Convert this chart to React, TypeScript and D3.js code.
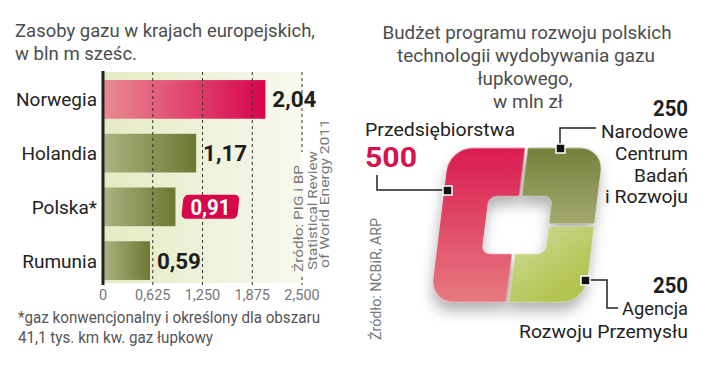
import React from 'react';
import * as d3 from 'd3';

const width = 720;
const height = 365;
const font = 'Roboto, "Open Sans", sans-serif';

// left chart: gas reserves
const countries = ['Norwegia', 'Holandia', 'Polska*', 'Rumunia'];
const reserves = [2.04, 1.17, 0.91, 0.59];
const reserveLabels = ['2,04', '1,17', '0,91', '0,59'];
const tickValues = [0, 0.625, 1.25, 1.875, 2.5];
const tickLabels = ['0', '0,625', '1,250', '1,875', '2,500'];

// right chart: budget
const budgetNames = [['Przedsiębiorstwa'], ['Narodowe', 'Centrum', 'Badań', 'i Rozwoju'], ['Agencja', 'Rozwoju Przemysłu']];
const budgetValues = [500, 250, 250];
const budgetLabels = ['500', '250', '250'];

const x = d3.scaleLinear().domain([0, 2.5]).range([103, 302]);
const y = d3.scaleBand().domain(countries).range([72, 288]).paddingInner(0.28).paddingOuter(0.15);

const pie = d3.pie<number>().sort(null).startAngle(Math.PI).endAngle(3 * Math.PI);
const arcs = pie(budgetValues);
const arcGen = d3.arc<d3.PieArcDatum<number>>().innerRadius(6).outerRadius(200).padAngle(0.025).padRadius(120);

function roundRect(p: d3.Path, x0: number, y0: number, w: number, h: number, r: number) {
  p.moveTo(x0 + r, y0);
  p.arcTo(x0 + w, y0, x0 + w, y0 + h, r);
  p.arcTo(x0 + w, y0 + h, x0, y0 + h, r);
  p.arcTo(x0, y0 + h, x0, y0, r);
  p.arcTo(x0, y0, x0 + w, y0, r);
  p.closePath();
}
const ring = d3.path();
roundRect(ring, -77, -77, 154, 154, 23);
roundRect(ring, -32, -29, 64, 58, 8);

const sliceGrad = [
  ['#da1c4f', '#e67a80', 0, -77, 0, 77],
  ['#74813a', '#a4a970', 0, -77, 0, 0],
  ['#d6dea6', '#b3c34f', -20, 0, 40, 77],
];

function App() {
  const barGrad = (i: number) => (i === 0 ? 'url(#gRed)' : 'url(#gGreen)');
  return (
    <svg width={width} height={height} style={{ position: 'absolute', left: 0, top: 0, background: '#fff' }} fontFamily={font}>
      <defs>
        <linearGradient id="gRed" x1="0" x2="1" y1="0" y2="0">
          <stop offset="0" stopColor="#e98c91" />
          <stop offset="1" stopColor="#d8044d" />
        </linearGradient>
        <linearGradient id="gGreen" x1="0" x2="1" y1="0" y2="0">
          <stop offset="0" stopColor="#adb283" />
          <stop offset="1" stopColor="#6b7931" />
        </linearGradient>
        <linearGradient id="gBg" x1="0" x2="1" y1="0" y2="0">
          <stop offset="0" stopColor="#e5eac3" />
          <stop offset="1" stopColor="#f8f9ef" />
        </linearGradient>
        {sliceGrad.map((g, i) => (
          <linearGradient key={i} id={`gs${i}`} gradientUnits="userSpaceOnUse" x1={g[2]} y1={g[3]} x2={g[4]} y2={g[5]}>
            <stop offset="0" stopColor={g[0] as string} />
            <stop offset="1" stopColor={g[1] as string} />
          </linearGradient>
        ))}
        {arcs.map((a, i) => (
          <clipPath key={i} id={`cp${i}`}>
            <path d={arcGen(a) || ''} />
          </clipPath>
        ))}
        <filter id="shadow" x="-30%" y="-30%" width="160%" height="170%">
          <feDropShadow dx="0" dy="9" stdDeviation="7" floodColor="#000" floodOpacity="0.3" />
        </filter>
      </defs>

      {/* left chart */}
      <text x={15} y={37} fontSize={19} fill="#4d4d4d" textLength={300} lengthAdjust="spacingAndGlyphs">Zasoby gazu w krajach europejskich,</text>
      <text x={15} y={60} fontSize={19} fill="#4d4d4d" textLength={122} lengthAdjust="spacingAndGlyphs">w bln m sześc.</text>

      <rect x={x(0)} y={72} width={x(2.5) - x(0)} height={211} fill="url(#gBg)" />
      {countries.map((c, i) => (
        <rect key={c} x={x(0)} y={y(c)} width={x(reserves[i]) - x(0)} height={y.bandwidth()} fill={barGrad(i)} />
      ))}
      {tickValues.slice(1, 4).map((t) => (
        <line key={t} x1={x(t)} x2={x(t)} y1={72} y2={285} stroke="#333" strokeDasharray="3,3" />
      ))}
      <line x1={x(2.5)} x2={x(2.5)} y1={72} y2={152} stroke="#333" strokeDasharray="3,3" />
      <line x1={x(2.5)} x2={x(2.5)} y1={277} y2={285} stroke="#333" strokeDasharray="3,3" />
      <line x1={x(0)} x2={x(0)} y1={71} y2={285} stroke="#222" strokeWidth={3} />

      {countries.map((c) => (
        <text key={c} x={97} y={(y(c) as number) + y.bandwidth() / 2 + 7} textAnchor="end" fontSize={19} fill="#222">{c}</text>
      ))}
      {countries.map((c, i) => {
        const cy = (y(c) as number) + y.bandwidth() / 2;
        const lx = x(reserves[i]) + 7;
        if (c === 'Polska*') {
          return (
            <g key={c}>
              <rect x={lx} y={cy - 12} width={56} height={24} rx={5} fill="#d6084b" transform={`skewX(-6) translate(${cy * Math.tan(6 * Math.PI / 180)},0)`} />
              <text x={lx + 8} y={cy + 8} fontSize={22} fontWeight="bold" fill="#fff" textLength={40} lengthAdjust="spacingAndGlyphs">{reserveLabels[i]}</text>
            </g>
          );
        }
        return (
          <text key={c} x={lx} y={cy + 8} fontSize={22} fontWeight="bold" fill="#1e1e1e" textLength={44} lengthAdjust="spacingAndGlyphs">{reserveLabels[i]}</text>
        );
      })}
      {tickValues.map((t, i) => (
        <text key={t} x={x(t)} y={300} textAnchor="middle" fontSize={14.5} fill="#777">{tickLabels[i]}</text>
      ))}

      <g fontSize={13.5} fill="#777">
        <text transform="translate(303,272) rotate(-90)" textLength={107} lengthAdjust="spacingAndGlyphs">Źródło: PIG i BP</text>
        <text transform="translate(316.5,270) rotate(-90)" textLength={119} lengthAdjust="spacingAndGlyphs">Statistical Review</text>
        <text transform="translate(329,268) rotate(-90)" textLength={149} lengthAdjust="spacingAndGlyphs">of World Energy 2011</text>
      </g>

      <text x={18} y={323} fontSize={16} fill="#555" textLength={302} lengthAdjust="spacingAndGlyphs">*gaz konwencjonalny i określony dla obszaru</text>
      <text x={18} y={343} fontSize={16} fill="#555" textLength={195} lengthAdjust="spacingAndGlyphs">41,1 tys. km kw. gaz łupkowy</text>

      {/* right chart */}
      <g fontSize={19} fill="#4d4d4d" textAnchor="middle">
        <text x={527} y={39} textLength={289} lengthAdjust="spacingAndGlyphs">Budżet programu rozwoju polskich</text>
        <text x={526} y={62} textLength={258} lengthAdjust="spacingAndGlyphs">technologii wydobywania gazu</text>
        <text x={525} y={85} textLength={95} lengthAdjust="spacingAndGlyphs">łupkowego,</text>
        <text x={528} y={108} textLength={70} lengthAdjust="spacingAndGlyphs">w mln zł</text>
      </g>

      <g transform="translate(517,225) skewX(-7)" filter="url(#shadow)">
        {arcs.map((a, i) => (
          <path key={i} d={ring.toString()} fillRule="evenodd" fill={`url(#gs${i})`} clipPath={`url(#cp${i})`} />
        ))}
      </g>

      <text transform="translate(381,340) rotate(-90)" fontSize={14} fill="#777" textLength={122} lengthAdjust="spacingAndGlyphs">Źródło: NCBiR, ARP</text>

      {/* labels */}
      <text x={365} y={136} fontSize={19} fill="#222" textLength={150} lengthAdjust="spacingAndGlyphs">{budgetNames[0][0]}</text>
      <text x={365} y={167} fontSize={28} fontWeight="bold" fill="#d6134d" textLength={52} lengthAdjust="spacingAndGlyphs">{budgetLabels[0]}</text>

      <text x={688} y={116} textAnchor="end" fontSize={22} fontWeight="bold" fill="#1e1e1e" textLength={35} lengthAdjust="spacingAndGlyphs">{budgetLabels[1]}</text>
      {budgetNames[1].map((n, i) => (
        <text key={n} x={688} y={138 + i * 21.8} textAnchor="end" fontSize={18.5} fill="#222" textLength={[87, 73, 54, 83][i]} lengthAdjust="spacingAndGlyphs">{n}</text>
      ))}

      <text x={688} y={293} textAnchor="end" fontSize={22} fontWeight="bold" fill="#1e1e1e" textLength={35} lengthAdjust="spacingAndGlyphs">{budgetLabels[2]}</text>
      {budgetNames[2].map((n, i) => (
        <text key={n} x={688} y={315 + i * 23} textAnchor="end" fontSize={18.5} fill="#222" textLength={[66, 169][i]} lengthAdjust="spacingAndGlyphs">{n}</text>
      ))}

      {/* leaders */}
      <g fill="none" stroke="#222" strokeWidth={1.5}>
        <polyline points="377,175 377,190 446,190" />
        <polyline points="596,128 560,128 560,146" />
        <polyline points="586,280 607,280 607,308 618,308" />
      </g>
      <g fill="#111" stroke="#fff" strokeWidth={1.5}>
        <rect x={443} y={186} width={9} height={9} />
        <rect x={556} y={144} width={9} height={9} />
        <rect x={581} y={276} width={9} height={9} />
      </g>
    </svg>
  );
}

export default App;
